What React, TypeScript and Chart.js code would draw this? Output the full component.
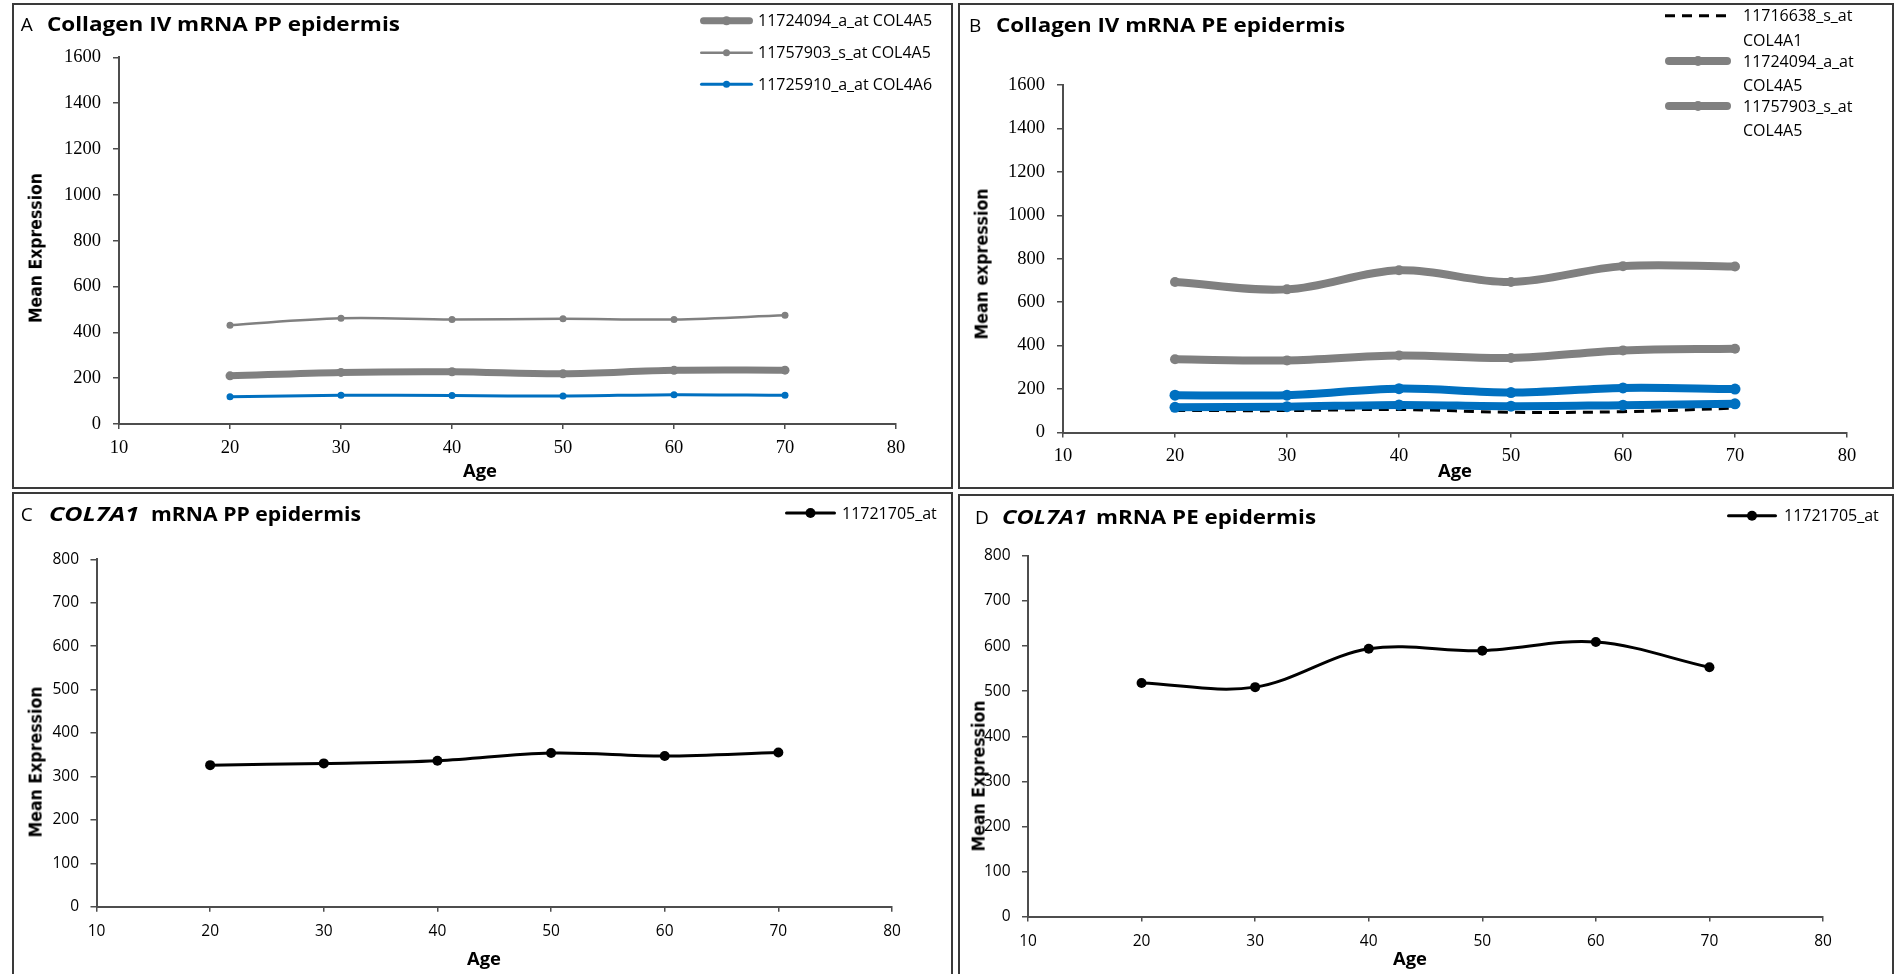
import React, { useEffect, useRef } from "react";
import { Chart, registerables } from "chart.js";

Chart.register(...registerables);

// ---------- data ----------
const ages = [20, 30, 40, 50, 60, 70];
const ageMin = 10;
const ageMax = 80;
const ageStep = 10;

// A: collagen IV, PP epidermis
const ppCol4a5Probe11724094 = [210, 225, 228, 219, 234, 235];
const ppCol4a5Probe11757903 = [431, 461, 456, 459, 456, 474];
const ppCol4a6Probe11725910 = [119, 125, 124, 122, 128, 125];

// B: collagen IV, PE epidermis
const peCol4a1Probe11716638 = [101, 101, 106, 93, 96, 112];
const peCol4a5Probe11724094 = [337, 332, 355, 343, 378, 386];
const peCol4a5Probe11757903 = [693, 659, 747, 693, 766, 764];
const peCol4a6Probe11725910 = [116, 119, 127, 121, 126, 132];
const peCol4a6OtherProbe = [172, 172, 202, 184, 205, 200];

// C, D: COL7A1
const ppCol7a1Probe11721705 = [326, 330, 336, 354, 347, 355];
const peCol7a1Probe11721705 = [518, 509, 594, 590, 609, 553];

const collagenIvMax = 1600;
const collagenIvStep = 200;
const col7Max = 800;
const col7Step = 100;

// ---------- styling ----------
const GRAY = "#808080";
const BLUE = "#0070C0";
const BLACK = "#000000";
const AXIS = "#4d4d4d";
const Y_AXIS_W = 64;
const X_AXIS_H = 40;

type Series = {
  label: string;
  values: number[];
  color: string;
  width: number;
  radius: number;
  dash?: number[];
  order?: number;
};

type Box = { left: number; top: number; width: number; height: number };
type Area = { left: number; top: number; right: number; bottom: number };

type LegendSpec = {
  x1: number;
  x2: number;
  textX: number;
  rows: { series: number; y: number }[];
  wrap: boolean;
  lineGap: number;
  fontSize: number;
};

type TitlePart = { text: string; left: number; width: number; italic?: boolean };

type PanelSpec = {
  frame: Box;
  area: Area;
  yMax: number;
  yStep: number;
  tickFamily: string;
  tickSize: number;
  tickPadX: number;
  tickPadY: number;
  series: Series[];
  legend: LegendSpec;
  letter: { text: string; left: number };
  heading: TitlePart[];
  capTop: number;
  yTitle: { text: string; cx: number; cy: number; length: number };
  xTitle: { text: string; cx: number; capTop: number; width: number };
};

// ---------- text helpers ----------
let measureCtx: CanvasRenderingContext2D | null = null;
function textWidth(text: string, font: string) {
  if (!measureCtx) measureCtx = document.createElement("canvas").getContext("2d");
  measureCtx!.font = font;
  return measureCtx!.measureText(text).width;
}

// distance from a line box top (line-height = 1em) to the cap top, in em
const OPEN_SANS_CAP_OFFSET = 0.174;

function FittedText(props: {
  text: string;
  family: string;
  size: number;
  weight: number;
  italic?: boolean;
  left: number;
  capTop: number;
  width: number;
}) {
  const { text, family, size, weight, italic, left, capTop, width } = props;
  const font = `${italic ? "italic " : ""}${weight} ${size}px "${family}"`;
  const sx = width / textWidth(text, font);
  return (
    <div
      style={{
        position: "absolute",
        left,
        top: capTop - OPEN_SANS_CAP_OFFSET * size,
        font,
        lineHeight: `${size}px`,
        whiteSpace: "pre",
        color: "#000",
        transformOrigin: "0 0",
        transform: `scaleX(${sx})`,
      }}
    >
      {text}
    </div>
  );
}

function VerticalTitle(props: { text: string; cx: number; cy: number; length: number }) {
  const size = 14;
  const sy = 1.3;
  const font = `700 ${size}px "DejaVu Sans"`;
  const sx = props.length / textWidth(props.text, font);
  // ink sits ~0.1em towards the baseline from the centre of the line box
  const boxCx = props.cx - 0.1 * size * sy;
  return (
    <div
      style={{
        position: "absolute",
        left: boxCx,
        top: props.cy,
        font,
        lineHeight: `${size}px`,
        whiteSpace: "pre",
        color: "#000",
        transform: `translate(-50%, -50%) rotate(-90deg) scale(${sx}, ${sy})`,
      }}
    >
      {props.text}
    </div>
  );
}

// ---------- chart config ----------
function legendPlugin(spec: LegendSpec, ox: number, oy: number) {
  return {
    id: "cornerLegend",
    afterDraw(chart: any) {
      const ctx: CanvasRenderingContext2D = chart.ctx;
      ctx.save();
      spec.rows.forEach((row) => {
        const ds: any = chart.data.datasets[row.series];
        const y = row.y - oy;
        const x1 = spec.x1 - ox;
        const x2 = spec.x2 - ox;
        const dashed = Array.isArray(ds.borderDash) && ds.borderDash.length > 0;
        const w = ds.borderWidth;
        const inset = dashed ? 0 : w / 2;
        ctx.beginPath();
        ctx.lineWidth = w;
        ctx.strokeStyle = ds.borderColor;
        ctx.lineCap = dashed ? "butt" : "round";
        ctx.setLineDash(dashed ? ds.borderDash : []);
        ctx.moveTo(x1 + inset, y);
        ctx.lineTo(x2 - inset, y);
        ctx.stroke();
        ctx.setLineDash([]);
        if (ds.pointRadius > 0) {
          ctx.beginPath();
          ctx.fillStyle = ds.borderColor;
          ctx.arc((x1 + x2) / 2, y, ds.pointRadius, 0, Math.PI * 2);
          ctx.fill();
        }
        const lines = spec.wrap ? String(ds.label).split(" ") : [String(ds.label)];
        ctx.fillStyle = "#000";
        ctx.font = `400 ${spec.fontSize}px "Open Sans"`;
        ctx.textBaseline = "alphabetic";
        ctx.textAlign = "left";
        const capHalf = 0.357 * spec.fontSize;
        lines.forEach((t, i) => {
          ctx.fillText(t, spec.textX - ox, y + i * spec.lineGap + capHalf);
        });
      });
      ctx.restore();
    },
  };
}

function buildConfig(spec: PanelSpec): any {
  const f = spec.frame;
  const a = spec.area;
  const tickFont = { family: spec.tickFamily, size: spec.tickSize };
  const axisCommon = {
    grid: { drawOnChartArea: false, drawTicks: true, color: AXIS, lineWidth: 1.5 },
    border: { display: true, color: AXIS, width: 2 },
  };
  return {
    type: "line",
    data: {
      datasets: spec.series.map((s) => ({
        label: s.label,
        data: ages.map((age, i) => ({ x: age, y: s.values[i] })),
        borderColor: s.color,
        backgroundColor: s.color,
        borderWidth: s.width,
        borderDash: s.dash || [],
        borderCapStyle: s.dash ? "butt" : "round",
        borderJoinStyle: "round",
        pointRadius: s.radius,
        pointBackgroundColor: s.color,
        pointBorderColor: s.color,
        pointBorderWidth: 0,
        tension: 0.35,
        fill: false,
        order: s.order ?? 0,
      })),
    },
    options: {
      animation: false,
      responsive: false,
      events: [],
      layout: {
        padding: {
          left: a.left - f.left - Y_AXIS_W,
          top: a.top - f.top,
          right: f.left + f.width - a.right,
          bottom: f.top + f.height - a.bottom - X_AXIS_H,
        },
      },
      plugins: {
        legend: { display: false },
        tooltip: { enabled: false },
        title: { display: false },
      },
      scales: {
        x: {
          type: "linear",
          min: ageMin,
          max: ageMax,
          ...axisCommon,
          grid: { ...axisCommon.grid, tickLength: 5 },
          ticks: {
            stepSize: ageStep,
            font: tickFont,
            color: "#000",
            padding: spec.tickPadX,
            maxRotation: 0,
            autoSkip: false,
            callback: (v: number) => String(v),
          },
          afterFit: (s: any) => {
            s.height = X_AXIS_H;
          },
        },
        y: {
          type: "linear",
          min: 0,
          max: spec.yMax,
          ...axisCommon,
          grid: { ...axisCommon.grid, tickLength: 6 },
          ticks: {
            stepSize: spec.yStep,
            font: tickFont,
            color: "#000",
            padding: spec.tickPadY,
            autoSkip: false,
            callback: (v: number) => String(v),
          },
          afterFit: (s: any) => {
            s.width = Y_AXIS_W;
          },
        },
      },
    },
    plugins: [legendPlugin(spec.legend, f.left, f.top)],
  };
}

// ---------- panels ----------
const panelA: PanelSpec = {
  frame: { left: 12, top: 3, width: 941, height: 486 },
  area: { left: 119, top: 57.3, right: 896, bottom: 424 },
  yMax: collagenIvMax,
  yStep: collagenIvStep,
  tickFamily: "Liberation Serif",
  tickSize: 18.5,
  tickPadX: 8,
  tickPadY: 12,
  series: [
    { label: "11724094_a_at COL4A5", values: ppCol4a5Probe11724094, color: GRAY, width: 7, radius: 4.5 },
    { label: "11757903_s_at COL4A5", values: ppCol4a5Probe11757903, color: GRAY, width: 2.5, radius: 3.5 },
    { label: "11725910_a_at COL4A6", values: ppCol4a6Probe11725910, color: BLUE, width: 3, radius: 3.5 },
  ],
  legend: {
    x1: 700,
    x2: 753,
    textX: 758,
    rows: [
      { series: 0, y: 20.7 },
      { series: 1, y: 52.7 },
      { series: 2, y: 84.3 },
    ],
    wrap: false,
    lineGap: 24,
    fontSize: 16,
  },
  letter: { text: "A", left: 20.7 },
  heading: [{ text: "Collagen IV mRNA PP epidermis", left: 47, width: 353 }],
  capTop: 18.3,
  yTitle: { text: "Mean Expression", cx: 36.8, cy: 248, length: 150 },
  xTitle: { text: "Age", cx: 480.4, capTop: 465, width: 34 },
};

const panelB: PanelSpec = {
  frame: { left: 958, top: 3, width: 936, height: 486 },
  area: { left: 1063, top: 85, right: 1847, bottom: 432.5 },
  yMax: collagenIvMax,
  yStep: collagenIvStep,
  tickFamily: "Liberation Serif",
  tickSize: 18.5,
  tickPadX: 8,
  tickPadY: 12,
  series: [
    { label: "11716638_s_at COL4A1", values: peCol4a1Probe11716638, color: BLACK, width: 3, radius: 0, dash: [10, 7], order: 5 },
    { label: "11724094_a_at COL4A5", values: peCol4a5Probe11724094, color: GRAY, width: 8, radius: 5, order: 3 },
    { label: "11757903_s_at COL4A5", values: peCol4a5Probe11757903, color: GRAY, width: 8, radius: 5, order: 3 },
    { label: "11725910_a_at COL4A6", values: peCol4a6Probe11725910, color: BLUE, width: 8, radius: 5.5, order: 1 },
    { label: "COL4A6 second probe", values: peCol4a6OtherProbe, color: BLUE, width: 8, radius: 5.5, order: 1 },
  ],
  legend: {
    x1: 1665,
    x2: 1731,
    textX: 1743,
    rows: [
      { series: 0, y: 15.7 },
      { series: 1, y: 61 },
      { series: 2, y: 106 },
    ],
    wrap: true,
    lineGap: 24.3,
    fontSize: 16,
  },
  letter: { text: "B", left: 969 },
  heading: [{ text: "Collagen IV mRNA PE epidermis", left: 996, width: 349 }],
  capTop: 19.3,
  yTitle: { text: "Mean expression", cx: 983.2, cy: 263.5, length: 151 },
  xTitle: { text: "Age", cx: 1454.8, capTop: 465, width: 34 },
};

const panelC: PanelSpec = {
  frame: { left: 12, top: 492, width: 941, height: 500 },
  area: { left: 96.5, top: 559.3, right: 892, bottom: 906.7 },
  yMax: col7Max,
  yStep: col7Step,
  tickFamily: "Open Sans",
  tickSize: 15.5,
  tickPadX: 11,
  tickPadY: 11.5,
  series: [{ label: "11721705_at", values: ppCol7a1Probe11721705, color: BLACK, width: 3, radius: 5 }],
  legend: {
    x1: 785,
    x2: 836,
    textX: 842,
    rows: [{ series: 0, y: 513 }],
    wrap: false,
    lineGap: 24,
    fontSize: 16,
  },
  letter: { text: "C", left: 20.7 },
  heading: [
    { text: "COL7A1", left: 49, width: 90, italic: true },
    { text: "mRNA PP epidermis", left: 151, width: 210 },
  ],
  capTop: 508,
  yTitle: { text: "Mean Expression", cx: 36.8, cy: 761.5, length: 151 },
  xTitle: { text: "Age", cx: 483.8, capTop: 953, width: 34 },
};

const panelD: PanelSpec = {
  frame: { left: 958, top: 494, width: 936, height: 500 },
  area: { left: 1028, top: 556, right: 1823, bottom: 916.5 },
  yMax: col7Max,
  yStep: col7Step,
  tickFamily: "Open Sans",
  tickSize: 15.5,
  tickPadX: 10.5,
  tickPadY: 11.5,
  series: [{ label: "11721705_at", values: peCol7a1Probe11721705, color: BLACK, width: 3, radius: 5 }],
  legend: {
    x1: 1727,
    x2: 1777,
    textX: 1784,
    rows: [{ series: 0, y: 515.7 }],
    wrap: false,
    lineGap: 24,
    fontSize: 16,
  },
  letter: { text: "D", left: 975 },
  heading: [
    { text: "COL7A1", left: 1002, width: 85, italic: true },
    { text: "mRNA PE epidermis", left: 1095.5, width: 220 },
  ],
  capTop: 511.7,
  yTitle: { text: "Mean Expression", cx: 980.2, cy: 775.5, length: 151 },
  xTitle: { text: "Age", cx: 1409.6, capTop: 953, width: 34 },
};

function Panel({ spec }: { spec: PanelSpec }) {
  const ref = useRef<HTMLCanvasElement>(null);
  useEffect(() => {
    const chart = new Chart(ref.current as HTMLCanvasElement, buildConfig(spec));
    return () => chart.destroy();
  }, [spec]);
  const f = spec.frame;
  const letterFont = `400 19px "Open Sans"`;
  return (
    <>
      <div
        style={{
          position: "absolute",
          left: f.left,
          top: f.top,
          width: f.width,
          height: f.height,
          border: "2px solid #3a3a3a",
          boxSizing: "border-box",
        }}
      />
      <canvas
        ref={ref}
        width={f.width}
        height={f.height}
        style={{ position: "absolute", left: f.left, top: f.top, width: f.width, height: f.height }}
      />
      <FittedText
        text={spec.letter.text}
        family="Open Sans"
        size={19}
        weight={400}
        left={spec.letter.left}
        capTop={spec.capTop}
        width={textWidth(spec.letter.text, letterFont)}
      />
      {spec.heading.map((p, i) => (
        <FittedText
          key={i}
          text={p.text}
          family="Open Sans"
          size={19}
          weight={700}
          italic={p.italic}
          left={p.left}
          capTop={spec.capTop}
          width={p.width}
        />
      ))}
      <VerticalTitle text={spec.yTitle.text} cx={spec.yTitle.cx} cy={spec.yTitle.cy} length={spec.yTitle.length} />
      <FittedText
        text={spec.xTitle.text}
        family="Open Sans"
        size={17}
        weight={700}
        left={spec.xTitle.cx - spec.xTitle.width / 2}
        capTop={spec.xTitle.capTop}
        width={spec.xTitle.width}
      />
    </>
  );
}

export default function App() {
  return (
    <div
      style={{
        position: "fixed",
        left: 0,
        top: 0,
        width: 1896,
        height: 974,
        overflow: "hidden",
        background: "#ffffff",
      }}
    >
      <Panel spec={panelA} />
      <Panel spec={panelB} />
      <Panel spec={panelC} />
      <Panel spec={panelD} />
    </div>
  );
}
